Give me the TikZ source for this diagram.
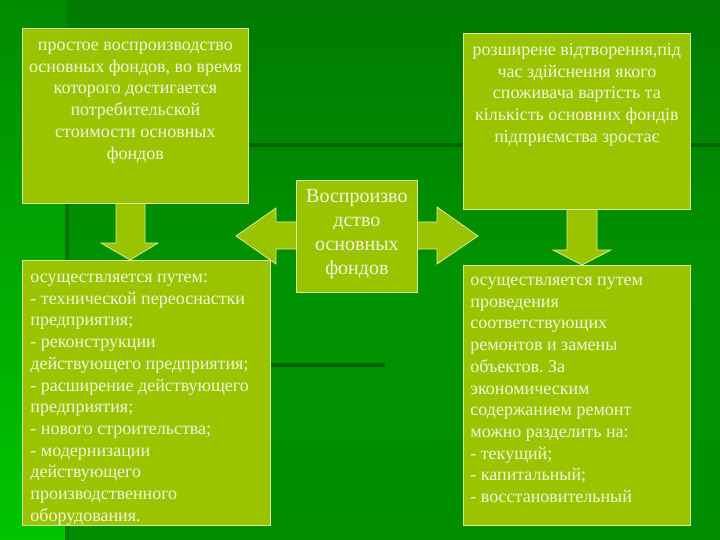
\documentclass[tikz,border=0pt]{standalone}
\usepackage{fontspec}
\setmainfont{Liberation Serif}
\frenchspacing
\definecolor{boxfill}{HTML}{9AC400}
\definecolor{boxline}{HTML}{D9EE9A}
\definecolor{txt}{HTML}{F4F4D6}
\definecolor{bgtop}{HTML}{007A00}
\definecolor{bgmid}{HTML}{009200}
\definecolor{bgbot}{HTML}{008E00}
\definecolor{lefttop}{HTML}{008A00}
\definecolor{leftbot}{HTML}{00C400}
\definecolor{darkband}{HTML}{006400}
\newcommand{\boxfont}{\fontsize{18pt}{21.7pt}\selectfont}
\newcommand{\midfont}{\fontsize{20pt}{24pt}\selectfont}
\begin{document}
\begin{tikzpicture}[x=1pt,y=-1pt,
  box/.style={draw=boxline, line width=0.8pt, fill=boxfill, inner sep=0pt, anchor=north west, text=txt},
  blockarrow/.style={draw=boxline, line width=0.8pt, fill=boxfill, line join=miter}]
\useasboundingbox (0,0) rectangle (720,540);
% background
\fill[top color=bgtop, bottom color=bgbot, middle color=bgmid] (0,0) rectangle (720,540);
\fill[top color=lefttop, bottom color=leftbot] (0,0) rectangle (67,540);
\fill[darkband] (248,143) rectangle (720,147);
\fill[darkband] (270,363) rectangle (385,367);
\fill[darkband!80!black, opacity=0.5] (65,203) rectangle (69,540);
% block arrows
\draw[blockarrow] (116,203) -- (145,203) -- (145,243) -- (158,243) -- (130,260) -- (101,243) -- (116,243) -- cycle;
\draw[blockarrow] (567,209) -- (597,209) -- (597,250) -- (611,250) -- (582,265) -- (553,250) -- (567,250) -- cycle;
\draw[blockarrow] (236,236) -- (276,208) -- (276,222) -- (437,222) -- (437,207) -- (478,236) -- (437,264) -- (437,249) -- (276,249) -- (276,264) -- cycle;
% boxes
\node[box] (simple) at (22,28) {\parbox[c][175pt][t]{226pt}{\boxfont\centering\vspace*{7pt}\strut простое воспроизводство\\
основных фондов, во время\\
которого достигается\\
потребительской\\
стоимости основных\\
фондов\par}};
\node[box] (expanded) at (463,33) {\parbox[c][176pt][t]{227pt}{\boxfont\centering\vspace*{7pt}\strut розширене відтворення,під\\
час здійснення якого\\
споживача вартість та\\
кількість основних фондів\\
підприємства зростає\par}};
\node[box] (center) at (296,180) {\parbox[c][112pt][t]{121pt}{\midfont\centering\vspace*{5pt}\strut Воспроизво\\
дство\\
основных\\
фондов\par}};
\node[box] (waysimple) at (22,260) {\parbox[c][265pt][t]{248pt}{\boxfont\raggedright\leftskip=8pt\vspace*{7pt}\strut осуществляется путем:\\
- технической переоснастки\\
предприятия;\\
- реконструкции\\
действующего предприятия;\\
- расширение действующего\\
предприятия;\\
- нового строительства;\\
- модернизации\\
действующего\\
производственного\\
оборудования.\par}};
\node[box] (wayexpanded) at (463,265) {\parbox[c][260pt][t]{227pt}{\boxfont\raggedright\leftskip=7pt\vspace*{5pt}\strut осуществляется путем\\
проведения\\
соответствующих\\
ремонтов и замены\\
объектов. За\\
экономическим\\
содержанием ремонт\\
можно разделить на:\\
- текущий;\\
- капитальный;\\
- восстановительный\par}};
\end{tikzpicture}
\end{document}
